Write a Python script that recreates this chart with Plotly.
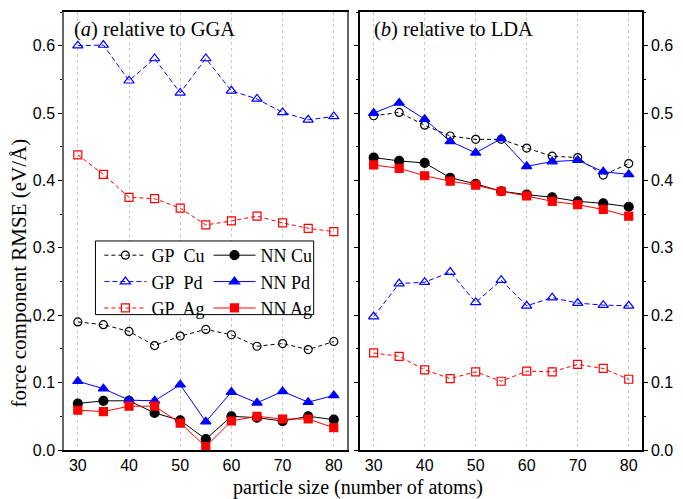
import plotly.graph_objects as go

sizes = [30, 35, 40, 45, 50, 55, 60, 65, 70, 75, 80]

# (a) relative to GGA
gp_cu_gga = [0.190, 0.186, 0.176, 0.155, 0.169, 0.179, 0.171, 0.154, 0.158, 0.149, 0.161]
gp_pd_gga = [0.600, 0.601, 0.548, 0.581, 0.530, 0.581, 0.533, 0.521, 0.501, 0.490, 0.495]
gp_ag_gga = [0.438, 0.409, 0.375, 0.373, 0.359, 0.334, 0.340, 0.347, 0.337, 0.329, 0.324]
nn_cu_gga = [0.069, 0.073, 0.073, 0.055, 0.044, 0.016, 0.050, 0.048, 0.043, 0.050, 0.045]
nn_pd_gga = [0.102, 0.091, 0.074, 0.073, 0.097, 0.042, 0.086, 0.070, 0.087, 0.071, 0.081]
nn_ag_gga = [0.059, 0.057, 0.065, 0.065, 0.040, 0.005, 0.043, 0.050, 0.046, 0.046, 0.033]

# (b) relative to LDA
gp_cu_lda = [0.496, 0.501, 0.482, 0.466, 0.461, 0.461, 0.448, 0.436, 0.434, 0.408, 0.425]
gp_pd_lda = [0.198, 0.247, 0.249, 0.264, 0.219, 0.252, 0.214, 0.226, 0.218, 0.215, 0.214]
gp_ag_lda = [0.144, 0.139, 0.119, 0.106, 0.116, 0.102, 0.117, 0.116, 0.127, 0.121, 0.105]
nn_cu_lda = [0.434, 0.429, 0.426, 0.404, 0.395, 0.384, 0.379, 0.375, 0.369, 0.366, 0.361]
nn_pd_lda = [0.500, 0.515, 0.491, 0.458, 0.441, 0.462, 0.421, 0.428, 0.430, 0.413, 0.409]
nn_ag_lda = [0.423, 0.418, 0.407, 0.399, 0.393, 0.384, 0.377, 0.369, 0.364, 0.357, 0.347]

y_ticks = [0.0, 0.1, 0.2, 0.3, 0.4, 0.5, 0.6]
x_ticks = [30, 40, 50, 60, 70, 80]

SERIF = "Liberation Serif, Times New Roman, serif"
SANS = "Liberation Sans, Arial, sans-serif"

fig = go.Figure()

series = [
    ("GP\u00a0 Cu", "black", "circle-open", 8, "4px,3px", "legend", gp_cu_gga, gp_cu_lda),
    ("GP\u00a0 Pd", "#0000ff", "triangle-up-open", 9, "5px,3px", "legend", gp_pd_gga, gp_pd_lda),
    ("GP\u00a0 Ag", "#ff0000", "square-open", 8, "4px,3px", "legend", gp_ag_gga, gp_ag_lda),
    ("NN Cu", "black", "circle", 9, "solid", "legend2", nn_cu_gga, nn_cu_lda),
    ("NN Pd", "#0000ff", "triangle-up", 9, "solid", "legend2", nn_pd_gga, nn_pd_lda),
    ("NN Ag", "#ff0000", "square", 8, "solid", "legend2", nn_ag_gga, nn_ag_lda),
]

for name, color, sym, ms, dash, leg, ygga, ylda in series:
    for xa, ya, yv, show in (("x", "y", ygga, True), ("x2", "y2", ylda, False)):
        fig.add_trace(go.Scatter(
            x=sizes, y=yv, xaxis=xa, yaxis=ya, name=name, legend=leg,
            showlegend=show, mode="lines+markers",
            line=dict(color=color, width=1, dash=dash),
            marker=dict(symbol=sym, size=ms, color=color,
                        line=dict(color=color, width=1.2)),
        ))

L, R, T, B = 64, 31, 10, 49
W, H = 683, 499
pw, ph = W - L - R, H - T - B

def px(xp):
    return (xp - L) / pw

def py(yp):
    return (H - B - yp) / ph

axis_common = dict(range=[27.3, 82.6], tickvals=x_ticks, showgrid=True,
                   gridcolor="#c8c8c8", griddash="dot", gridwidth=1,
                   showline=True, linecolor="black", linewidth=1.5,
                   ticks="outside", ticklen=0, tickcolor="black",
                   zeroline=False, tickfont=dict(family=SANS, size=16, color="black"))

yaxis_common = dict(range=[0, 0.65], tickvals=y_ticks, ticktext=[f"{v:.1f}" for v in y_ticks],
                    showgrid=False, zeroline=False, showline=True,
                    linewidth=1.5, ticks="outside", ticklen=4, tickcolor="black",
                    minor=dict(dtick=0.05, tick0=0, ticklen=2, ticks="outside", tickcolor="black"),
                    tickfont=dict(family=SANS, size=16, color="black"))

legend_common = dict(xanchor="left", yanchor="top", bgcolor="rgba(0,0,0,0)",
                     borderwidth=0, tracegroupgap=0, itemwidth=42,
                     font=dict(family=SERIF, size=18, color="black"))

fig.update_layout(
    width=W, height=H,
    margin=dict(l=L, r=R, t=T, b=B),
    paper_bgcolor="white", plot_bgcolor="white",
    xaxis=dict(domain=[0, px(352)], anchor="y", mirror=True, **axis_common),
    xaxis2=dict(domain=[px(365), 1], anchor="y2", mirror=True, **axis_common),
    yaxis=dict(domain=[0, 1], anchor="x", side="left", mirror=True, linecolor="#666", **yaxis_common),
    yaxis2=dict(domain=[0, 1], anchor="x2", side="right", mirror="ticks", linecolor="black", **yaxis_common),
    legend=dict(x=px(100), y=py(236), **legend_common),
    legend2=dict(x=px(211), y=py(236), **legend_common),
    shapes=[dict(type="rect", xref="paper", yref="paper",
                 x0=px(96), x1=px(318), y0=py(314), y1=py(240),
                 line=dict(color="black", width=1), fillcolor="white", layer="above")],
    annotations=[
        dict(text="(<i>a</i>) relative to GGA", xref="paper", yref="paper",
             x=px(72), y=py(28), xanchor="left", yanchor="middle", showarrow=False,
             font=dict(family=SERIF, size=20.5, color="black")),
        dict(text="(<i>b</i>) relative to LDA", xref="paper", yref="paper",
             x=px(377), y=py(28), xanchor="left", yanchor="middle", showarrow=False,
             font=dict(family=SERIF, size=20.5, color="black")),
        dict(text="force component RMSE (eV/Å)", xref="paper", yref="paper",
             x=px(18), y=py(272), xanchor="center", yanchor="middle", showarrow=False,
             textangle=-90, font=dict(family=SERIF, size=21, color="black")),
        dict(text="particle size (number of atoms)", xref="paper", yref="paper",
             x=px(363), y=py(488), xanchor="center", yanchor="middle", showarrow=False,
             font=dict(family=SERIF, size=20, color="black")),
    ],
)

fig.write_html("out.html")
